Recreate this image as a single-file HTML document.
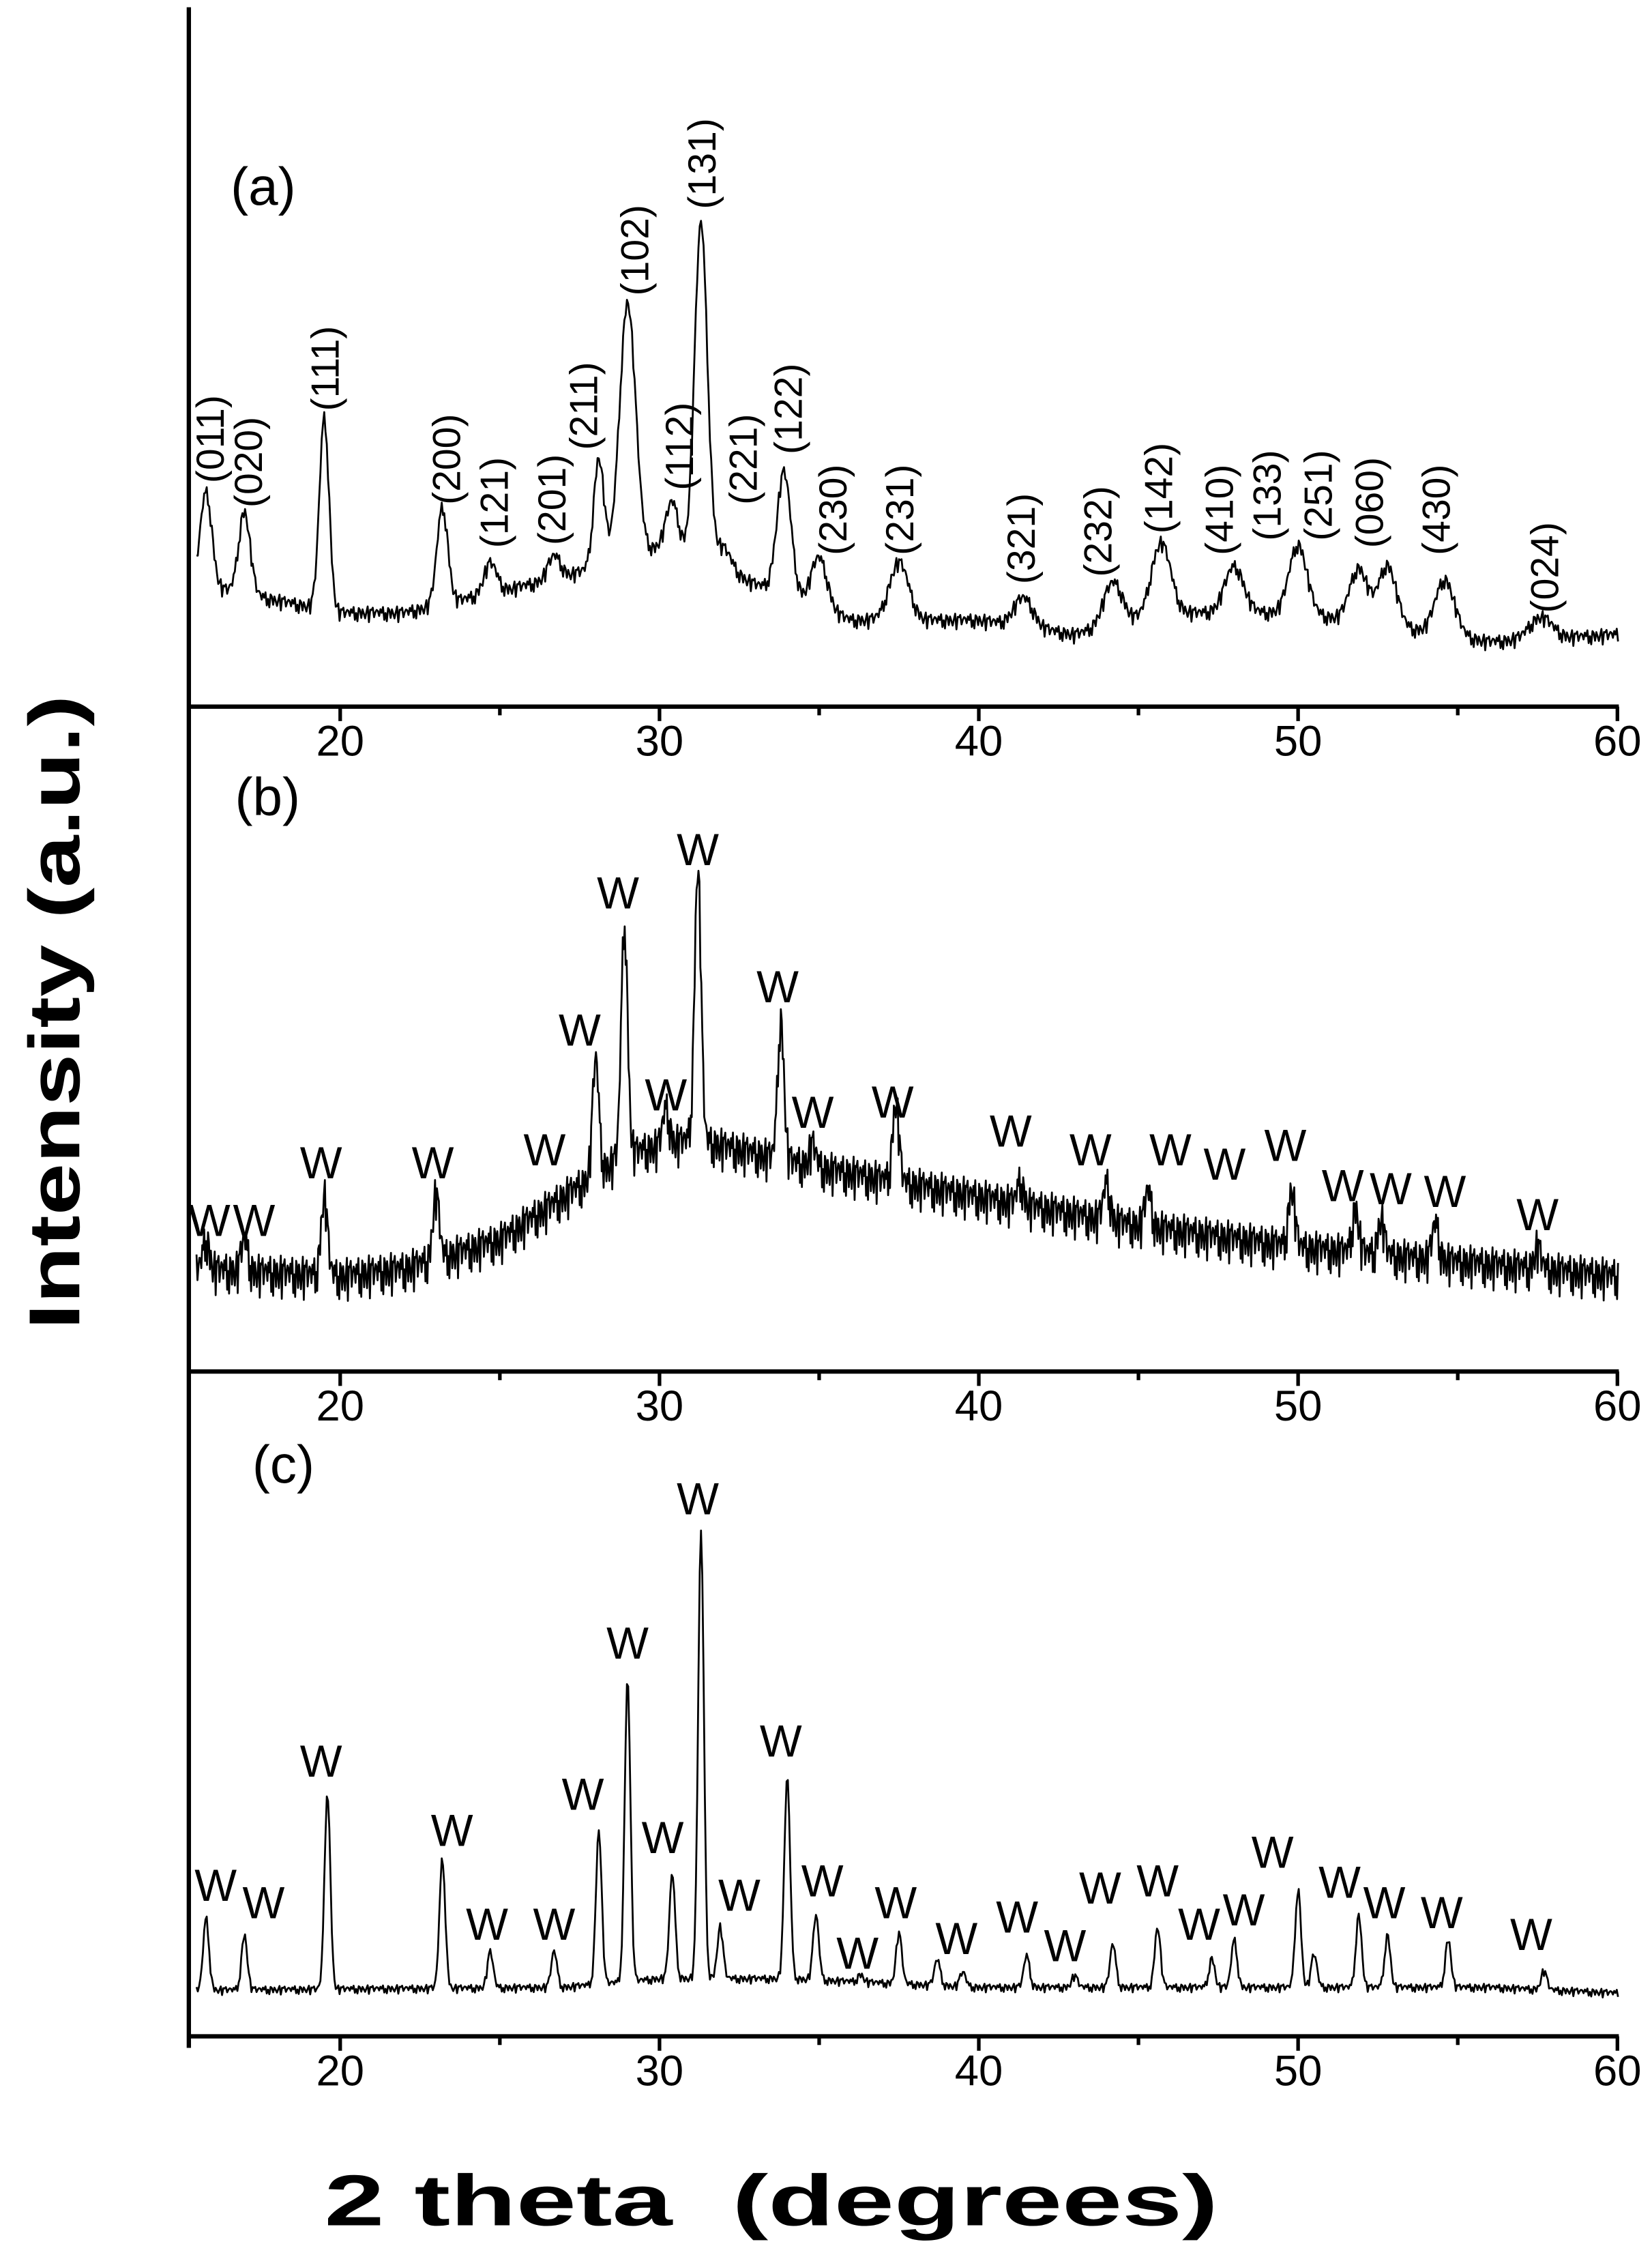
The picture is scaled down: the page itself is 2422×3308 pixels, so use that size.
<!DOCTYPE html>
<html><head><meta charset="utf-8"><style>
html,body{margin:0;padding:0;background:#fff}
svg{display:block}
text{font-family:"Liberation Sans",Arial,sans-serif;fill:#000}
</style></head><body>
<svg id="chart" width="2422" height="3308" viewBox="0 0 1146 1565" preserveAspectRatio="none" xmlns="http://www.w3.org/2000/svg">
<rect width="1146" height="1565" fill="#fff"/>
<g id="g"></g>
<text x="0" y="0" transform="translate(55,702) rotate(-90)" text-anchor="middle" font-size="50" font-weight="bold" textLength="440" lengthAdjust="spacingAndGlyphs">Intensity (a.u.)</text>
<text x="535" y="1543" text-anchor="middle" font-size="50" font-weight="bold" textLength="620" lengthAdjust="spacingAndGlyphs" xml:space="preserve">2 theta  (degrees)</text>
</svg>
<script>
// ---- data ----
var xTicks=[20,30,40,50,60];
var panelLabels=["(a)","(b)","(c)"];
var baseA_x=[15.5,17,20,22,25,27,28.5,30,32,33,36,40,43,46,50,56,60];
var baseA_y=[85,78,65,65,80,90,100,110,95,85,60,60,50,65,65,45,50];
var peakA_pos=[15.8,17.0,19.5,23.2,24.7,26.7,28.1,29.0,30.4,31.3,32.0,33.9,35.0,37.5,41.4,44.2,45.7,48.0,50.0,51.9,52.8,54.6,57.6];
var peakA_h=[65,57,133,67,21,16,75,177,35,235,15,85,35,40,20,30,50,32,47,37,42,38,15];
var peakA_w=[0.18,0.18,0.15,0.17,0.2,0.2,0.16,0.25,0.2,0.2,0.25,0.22,0.25,0.3,0.3,0.3,0.3,0.3,0.28,0.28,0.28,0.3,0.35];
var hklA=["(011)","(020)","(111)","(200)","(121)","(201)","(211)","(102)","(112)","(131)","(221)","(122)","(230)","(231)","(321)","(232)","(142)","(410)","(133)","(251)","(060)","(430)","(024)"];
var hklA_x=[15.9,17.1,19.5,23.3,24.8,26.6,27.6,29.2,30.6,31.3,32.6,34.0,35.4,37.5,41.3,43.7,45.6,47.5,49.0,50.6,52.2,54.3,57.7];
var hklA_I=[155,138,205,140,110,112,178,285,150,345,140,175,105,105,85,90,120,105,115,115,110,105,65];

var baseB_x=[15.5,20,22,25,27,29,31,33,35,40,45,50,55,60];
var baseB_y=[71,66,71,91,121,151,161,151,141,121,101,86,76,66];
var peakB_pos=[15.8,17.0,19.5,23.0,28.0,28.9,30.2,31.2,33.8,34.8,37.4,41.3,44.0,45.3,49.8,51.8,52.6,54.3,57.5];
var peakB_h=[20,22,55,45,80,160,25,190,95,15,55,15,25,25,40,30,25,25,15];
var wB_x=[15.9,17.3,19.4,22.9,26.4,27.5,28.7,30.2,31.2,33.7,34.8,37.3,41.0,43.5,46.0,47.7,49.6,51.4,52.9,54.6,57.5];
var wB_I=[94,94,134,134,143,226,321,181,351,256,169,176,156,143,143,133,146,118,116,114,98];

var baseC_x=[15.5,27,30,34,40,56,60];
var baseC_y=[32,34,40,40,34,34,30];
var peakC_pos=[15.8,17.0,19.6,23.2,24.7,26.7,28.1,29.0,30.4,31.3,31.9,34.0,34.9,36.3,37.5,38.7,39.5,41.5,43.0,44.2,45.6,47.3,48.0,50.0,50.5,51.9,52.8,54.7,57.7];
var peakC_h=[50,38,137,90,25,25,107,210,73,310,36,140,45,5,35,18,10,22,8,30,42,20,33,68,23,50,36,33,13];
var wC_x=[16.1,17.6,19.4,23.5,24.6,26.7,27.6,29.0,30.1,31.2,32.5,33.8,35.1,36.2,37.4,39.3,41.2,42.7,43.8,45.6,46.9,48.3,49.2,51.3,52.7,54.5,57.3];
var wC_I=[94,82,180,132,67,67,157,262,127,362,87,194,97,47,82,57,72,52,92,97,67,77,117,96,82,75,60];

var jitter=[0.3,-0.8,0.5,1,-0.2,-1,0.7,-0.4,0.9,-0.6,0.1,-0.9,0.6,0.2,-0.5,0.8,-0.3,-0.7,0.4,1,-1,0.2,-0.1];

// ---- scales ----
function xs(t){return 236+(t-20)*22.15;}
var axisY=[490,951,1412];
function ys(p,I){return axisY[p]-I;}
var NS="http://www.w3.org/2000/svg";
var g=document.getElementById('g');
function el(tag,attrs,parent){var e=document.createElementNS(NS,tag);for(var k in attrs)e.setAttribute(k,attrs[k]);(parent||g).appendChild(e);return e;}
function interp(xa,ya,t){if(t<=xa[0])return ya[0];for(var i=1;i<xa.length;i++){if(t<=xa[i]){var f=(t-xa[i-1])/(xa[i]-xa[i-1]);return ya[i-1]+f*(ya[i]-ya[i-1]);}}return ya[ya.length-1];}

function drawSeries(p,bx,by,pp,ph,pw,defW,noise,step,name){
  var d="";var i=0;
  for(var t=15.5;t<=60.05;t+=step){
    var I=interp(bx,by,t);
    for(var k=0;k<pp.length;k++){var w=pw?pw[k]:defW;var z=(t-pp[k])/w;I+=ph[k]*Math.exp(-0.5*z*z);}
    I+=noise*(jitter[i%23]+0.6*jitter[(i*7+3)%23]);
    d+=(i?"L":"M")+xs(t).toFixed(2)+" "+ys(p,I).toFixed(2);i++;
  }
  var path=el('path',{d:d,fill:'none',stroke:'#000','stroke-width':1.3,'stroke-linejoin':'round'});
  
  
}

var la=el('line',{x1:131,y1:5,x2:131,y2:1420,stroke:'#000','stroke-width':3});



for(var p=0;p<3;p++){
  var ax=el('line',{x1:130,y1:axisY[p],x2:1123,y2:axisY[p],stroke:'#000','stroke-width':3});
  
  
  for(var t=15;t<=60;t+=5){
    if(xs(t)<130)continue;
    var major=(t%10===0);
    el('line',{x1:xs(t),y1:axisY[p],x2:xs(t),y2:axisY[p]+(major?10:6),stroke:'#000','stroke-width':2.5});
  }
  for(var k=0;k<xTicks.length;k++){
    var tl=el('text',{x:xs(xTicks[k]),y:axisY[p]+34,'text-anchor':'middle','font-size':30});
    tl.textContent=xTicks[k];
    
    
  }
}
var plx=[160,163,175],ply=[142,565,1028];
for(var p=0;p<3;p++){
  var pl=el('text',{x:plx[p],y:ply[p],'font-size':37});
  pl.textContent=panelLabels[p];
  
  
}

drawSeries(0,baseA_x,baseA_y,peakA_pos,peakA_h,peakA_w,0.2,4,0.04,'pattern-a');
drawSeries(1,baseB_x,baseB_y,peakB_pos,peakB_h,null,0.1,11,0.03,'pattern-b');
drawSeries(2,baseC_x,baseC_y,peakC_pos,peakC_h,null,0.09,2.2,0.04,'pattern-c');

for(var k=0;k<hklA.length;k++){
  var x=xs(hklA_x[k])+10,y=ys(0,hklA_I[k]);
  var h=el('text',{x:0,y:0,transform:'translate('+x+','+y+') rotate(-90)','font-size':27});
  h.textContent=hklA[k];
  
  
}
function wLabels(p,xa,Ia){
  for(var k=0;k<xa.length;k++){
    var w=el('text',{x:xs(xa[k]),y:ys(p,Ia[k]),'text-anchor':'middle','font-size':31});
    w.textContent='W';
    
    
  }
}
wLabels(1,wB_x,wB_I);
wLabels(2,wC_x,wC_I);
</script>
</body></html>
